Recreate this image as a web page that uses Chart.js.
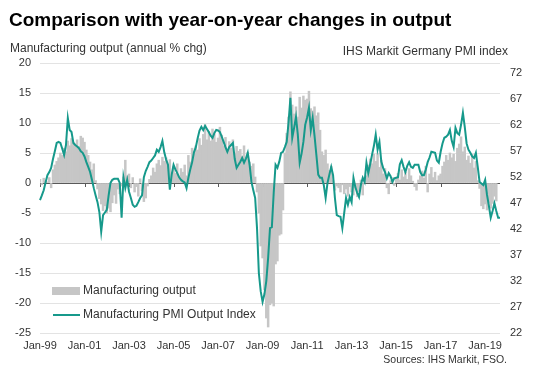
<!DOCTYPE html>
<html>
<head>
<meta charset="utf-8">
<script src="https://cdn.jsdelivr.net/npm/chart.js@4/dist/chart.umd.min.js"></script>
<style>
  body { margin: 0; background: #fff; }
  #wrap { position: relative; width: 534px; height: 382px; font-family: "Liberation Sans", Arial, sans-serif; color: #333; }
  #wrap canvas { position: absolute; left: 0; top: 0; }
  .txt { position: absolute; white-space: nowrap; }
  #title { left: 9px; top: 10px; font-size: 19px; line-height: 19px; font-weight: bold; color: #000; }
  #ltitle { left: 10px; top: 42px; font-size: 12px; line-height: 12px; }
  #rtitle { right: 26px; top: 45px; font-size: 12px; line-height: 12px; }
  #source { right: 27px; top: 354px; font-size: 10.5px; line-height: 11px; }
  .lg { position: absolute; left: 83px; font-size: 12px; line-height: 12px; white-space: nowrap; }
  .sw { position: absolute; }
</style>
</head>
<body>
<div id="wrap">
  <canvas id="chart" width="534" height="382"></canvas>
  <div class="txt" id="title">Comparison with year-on-year changes in output</div>
  <div class="txt" id="ltitle">Manufacturing output (annual % chg)</div>
  <div class="txt" id="rtitle">IHS Markit Germany PMI index</div>
  <div class="txt" id="source">Sources: IHS Markit, FSO.</div>
  <div class="sw" style="left:52px;top:287px;width:28px;height:8px;background:#c6c6c6"></div>
  <div class="lg" style="top:284px">Manufacturing output</div>
  <div class="sw" style="left:53px;top:314px;width:27px;height:2px;background:#16998b"></div>
  <div class="lg" style="top:308px">Manufacturing PMI Output Index</div>
</div>
<script>
"use strict";

// monthly categories Jan-99 .. Sep-19
var monthNames = ['Jan','Feb','Mar','Apr','May','Jun','Jul','Aug','Sep','Oct','Nov','Dec'];
var labels = [];
for (var y = 1999; y <= 2019; y++) {
  monthNames.forEach(function (m, k) {
    if (y === 2019 && k > 8) return;
    labels.push(m + '-' + String(y).slice(2));
  });
}

var tickLabels = ['Jan-99','Jan-01','Jan-03','Jan-05','Jan-07','Jan-09','Jan-11','Jan-13','Jan-15','Jan-17','Jan-19'];
var pmiTicks = [22, 27, 32, 37, 42, 47, 52, 57, 62, 67, 72];

// manufacturing output, annual % change
var output = [
  0.6, -0.3, 0.8, 0.4, 0.2, 0.9, -0.8, 2.2, 3.0, 3.6, 4.2, 5.0,
  4.6, 5.8, 5.2, 7.0, 6.2, 7.4, 6.8, 6.5, 7.2, 6.1, 7.8, 7.5,
  6.8, 5.5, 4.6, 3.5, 2.2, 3.2, 0.4, -1.0, -2.6, -3.5, -4.6, -3.8,
  -5.0, -4.2, -4.8, -3.3, -2.0, -3.4, -1.0, -1.8, -0.5, 1.0, 3.8, 1.2,
  1.5, -0.8, 0.9, -1.5, -0.6, -2.2, 0.7, -1.3, -3.1, -2.5, -0.5, 0.6,
  1.2, 2.5, 1.8, 3.2, 3.8, 2.9, 4.3, 3.6, 4.2, 2.8, 3.9, 1.8,
  2.8, 1.6, 3.2, 1.0, 2.4, 1.8, 3.0, 1.2, 4.6, 3.5, 5.8, 4.9,
  6.2, 5.5, 7.4, 6.3, 8.1, 9.7, 7.2, 8.6, 7.0, 9.0, 8.2, 6.8,
  7.5, 9.3, 8.0, 6.2, 7.6, 5.4, 6.9, 5.8, 7.2, 5.0, 6.1, 5.3,
  5.6, 4.5, 6.2, 4.0, 5.1, 3.5, 2.8, 3.2, 1.0, -1.5, -5.0, -10.5,
  -12.5, -17.8, -22.5, -24.0, -20.3, -20.0, -20.5, -13.5, -13.0, -8.7, -8.5, -4.5,
  5.0, 8.3, 11.0, 15.2, 13.0, 11.5, 12.7, 11.0, 14.3, 12.5, 14.5, 13.8,
  14.0, 15.3, 12.4, 12.0, 12.7, 11.2, 11.7, 8.8, 5.2, 4.6, 5.5, 3.2,
  2.1, 2.8, 0.4, -1.2, -0.5, -0.8, -1.5, -0.3, -1.8, -1.0, -2.2, -0.6,
  -1.5, -2.0, -0.8, -2.3, -1.4, 0.5, -2.0, 0.8, 1.2, 3.0, 4.0, 3.2,
  4.8, 3.6, 5.0, 2.6, 3.8, 1.5, 2.4, -0.8, -1.8, 0.4, 0.9, -0.4,
  0.8, 1.6, 0.5, 2.2, 1.0, 1.8, 0.6, 2.4, 1.2, 0.3, -0.6, -1.2,
  0.5, 1.2, 2.0, 0.8, 2.8, -1.5, 1.5, 2.6, 0.9, 1.8, 0.4, 1.2,
  1.5, 2.8, 3.5, 4.6, 3.8, 5.0, 4.2, 4.8, 3.6, 5.8, 6.5, 7.7,
  5.2, 6.0, 3.8, 4.5, 3.3, 4.8, 2.5, 3.6, 0.4, -0.9, -3.8, -4.3,
  -3.5, -4.5, -3.3, -4.2, -3.4, -2.2, -3.0
];

// manufacturing PMI output index
var pmi = [
  47.6, 48.5, 49.5, 51.0, 52.4, 53.0, 53.8, 55.5, 57.0, 58.6, 58.8, 58.6,
  57.5, 56.3, 58.2, 63.4, 61.1, 60.7, 58.6, 58.2, 57.9, 57.6, 57.0, 56.7,
  56.0, 54.9, 54.0, 53.0, 51.5, 49.9, 48.5, 47.2, 45.3, 41.5, 44.7, 45.2,
  45.7, 48.5, 50.9, 51.5, 51.7, 51.7, 51.7, 50.9, 44.2, 52.0, 49.9, 51.5,
  49.2, 48.0, 46.7, 46.3, 46.5, 47.2, 48.0, 48.5, 52.0, 53.2, 54.0, 54.9,
  55.2, 55.7, 56.2, 57.3, 56.9, 57.8, 59.0, 56.8, 55.4, 54.4, 49.6, 52.5,
  54.4, 53.5, 52.8, 52.0, 51.5, 51.2, 51.0, 49.9, 51.9, 53.5, 54.9, 56.8,
  57.8, 59.5, 61.0, 61.7, 61.1, 61.9, 61.3, 60.7, 60.0, 59.6, 60.5, 61.1,
  61.0, 60.7, 59.8, 58.8, 57.8, 56.9, 57.8, 58.2, 58.6, 55.5, 53.8, 54.4,
  55.0, 55.7, 54.8, 55.6, 56.7, 54.4, 51.1, 49.5, 48.0, 42.2, 33.5, 30.0,
  28.0, 29.5, 32.0, 36.5, 42.2, 42.4, 49.0, 54.4, 53.8, 55.0, 56.7, 56.9,
  57.8, 58.8, 62.5, 67.3, 59.6, 61.5, 63.6, 60.2, 54.8, 56.5, 58.8, 62.1,
  63.5, 65.4, 61.1, 63.4, 60.0, 56.3, 52.5, 51.9, 51.9, 50.5, 48.0, 50.9,
  52.5, 54.0, 52.4, 48.0, 44.7, 44.5, 44.4, 42.2, 45.1, 48.0, 46.7, 48.2,
  47.2, 51.9, 50.1, 49.0, 48.2, 50.5, 51.9, 51.1, 54.8, 52.8, 54.5, 56.3,
  58.0, 60.2, 57.3, 58.8, 55.0, 53.8, 53.0, 51.8, 52.8, 52.2, 51.1, 51.8,
  51.9, 52.0, 54.5, 55.3, 54.0, 53.0, 54.2, 54.9, 54.0, 53.8, 54.4, 54.4,
  54.4, 53.0, 52.4, 52.4, 53.5, 54.9, 55.8, 56.9, 56.8, 56.7, 55.2, 54.8,
  56.9, 58.5, 59.6, 59.8, 60.2, 61.1, 59.0, 57.8, 61.5, 60.5, 60.2, 62.1,
  64.4, 61.7, 58.5, 57.3, 56.7, 56.0, 55.7, 56.7, 54.0, 51.1, 50.8, 50.5,
  51.5, 48.6, 46.5, 44.2, 45.5, 47.0, 45.5, 44.2, 44.2
];

var tickFont = { family: '"Liberation Sans", Arial, sans-serif', size: 11 };

// small tick marks under the zero line at the labelled months
var zeroTicks = {
  id: 'zeroTicks',
  beforeDatasetsDraw: function (chart) {
    var ctx = chart.ctx, x = chart.scales.x, y0 = chart.scales.y.getPixelForValue(0);
    ctx.save();
    ctx.strokeStyle = '#595959';
    ctx.lineWidth = 1;
    labels.forEach(function (l, i) {
      if (tickLabels.indexOf(l) < 0) return;
      var px = Math.round(x.getPixelForValue(i)) + 0.5;
      ctx.beginPath();
      ctx.moveTo(px, y0);
      ctx.lineTo(px, y0 + 4);
      ctx.stroke();
    });
    ctx.restore();
  }
};

var chart = new Chart(document.getElementById('chart').getContext('2d'), {
  data: {
    labels: labels,
    datasets: [{
      type: 'line',
      label: 'Manufacturing PMI Output Index',
      data: pmi,
      yAxisID: 'y2',
      borderColor: '#16998b',
      borderWidth: 2,
      pointRadius: 0,
      tension: 0,
      order: 0
    }, {
      type: 'bar',
      label: 'Manufacturing output',
      data: output,
      yAxisID: 'y',
      backgroundColor: '#c6c6c6',
      barPercentage: 1,
      categoryPercentage: 1,
      order: 1
    }]
  },
  options: {
    responsive: false,
    animation: { duration: 0 },
    layout: { padding: { top: 63, bottom: 22, left: 0, right: 0 } },
    plugins: { legend: { display: false }, tooltip: { enabled: false } },
    scales: {
      x: {
        type: 'category',
        offset: false,
        grid: { display: false, drawTicks: false, tickLength: 0 },
        border: { display: false },
        ticks: {
          autoSkip: false,
          maxRotation: 0,
          padding: 6,
          color: '#333',
          font: tickFont,
          callback: function (v, i) {
            return tickLabels.indexOf(labels[i]) >= 0 ? labels[i] : '';
          }
        },
        afterFit: function (s) { s.height = 27; }
      },
      y: {
        position: 'left',
        min: -25,
        max: 20,
        ticks: { stepSize: 5, padding: 9, color: '#333', font: tickFont },
        grid: {
          drawTicks: false,
          color: function (c) { return c.tick && c.tick.value === 0 ? '#595959' : '#e3e3e3'; }
        },
        border: { display: false },
        afterFit: function (s) { s.width = 40; }
      },
      y2: {
        position: 'right',
        min: 22,
        max: 74,
        afterBuildTicks: function (s) {
          s.ticks = pmiTicks.map(function (v) { return { value: v }; });
        },
        ticks: { padding: 10, color: '#333', font: tickFont },
        grid: { display: false, drawTicks: false },
        border: { display: false },
        afterFit: function (s) { s.width = 34; }
      }
    }
  },
  plugins: [zeroTicks]
});
</script>
</body>
</html>
